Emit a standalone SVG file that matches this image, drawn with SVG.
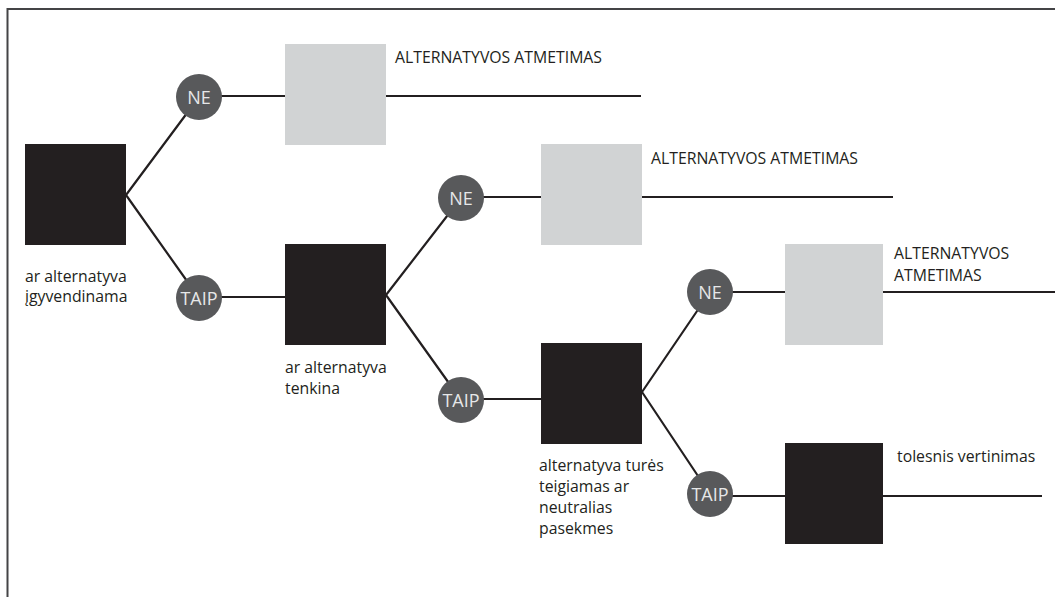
<svg xmlns="http://www.w3.org/2000/svg" width="1055" height="597" viewBox="0 0 1055 597">
  <style>
    .frame { fill: none; stroke: #444446; stroke-width: 2; }
    .link { fill: none; stroke: #231f20; stroke-width: 2.2; }
    .decision { fill: #231f20; }
    .reject { fill: #d1d3d4; }
    .chance { fill: #58595b; }
    .clabel { font-family: "Open Sans", "Liberation Sans", sans-serif; font-size: 18px; fill: #e6e7e8; text-anchor: middle; }
    .label { font-family: "Open Sans", "Liberation Sans", sans-serif; font-size: 15.8px; fill: #231f20; }
  </style>
  <rect width="1055" height="597" fill="#ffffff"/>

  <!-- outer frame: top and left edges only -->
  <path class="frame" d="M7.5 597 V9 H1055"/>

  <!-- connectors -->
  <g id="connectors">
    <path class="link" d="M126 195 L199 97 M126 195 L199 298"/>
    <path class="link" d="M199 96 H641"/>
    <path class="link" d="M199 297 H285"/>
    <path class="link" d="M386 295 L461 198 M386 295 L461 400"/>
    <path class="link" d="M461 197 H893"/>
    <path class="link" d="M461 399 H541"/>
    <path class="link" d="M642 392 L710 292 M642 392 L710 494"/>
    <path class="link" d="M710 292 H1055"/>
    <path class="link" d="M710 496 H1042"/>
  </g>

  <!-- root decision -->
  <g id="decision-1">
    <rect class="decision" x="25" y="144" width="101" height="101"/>
    <text class="label" x="25" y="282">ar alternatyva</text>
    <text class="label" x="25" y="302">įgyvendinama</text>
  </g>
  <g id="ne-1">
    <circle class="chance" cx="199" cy="97" r="23"/>
    <text class="clabel" x="199" y="104">NE</text>
  </g>
  <g id="taip-1">
    <circle class="chance" cx="199" cy="298" r="23"/>
    <text class="clabel" x="199" y="305">TAIP</text>
  </g>
  <g id="reject-1">
    <rect class="reject" x="285" y="44" width="101" height="101"/>
    <text class="label" x="395" y="63">ALTERNATYVOS ATMETIMAS</text>
  </g>

  <!-- second decision -->
  <g id="decision-2">
    <rect class="decision" x="285" y="244" width="101" height="101"/>
    <text class="label" x="285" y="373">ar alternatyva</text>
    <text class="label" x="285" y="394">tenkina</text>
  </g>
  <g id="ne-2">
    <circle class="chance" cx="461" cy="198" r="23"/>
    <text class="clabel" x="461" y="205">NE</text>
  </g>
  <g id="taip-2">
    <circle class="chance" cx="461" cy="400" r="23"/>
    <text class="clabel" x="461" y="407">TAIP</text>
  </g>
  <g id="reject-2">
    <rect class="reject" x="541" y="144" width="101" height="101"/>
    <text class="label" x="651" y="164">ALTERNATYVOS ATMETIMAS</text>
  </g>

  <!-- third decision -->
  <g id="decision-3">
    <rect class="decision" x="541" y="343" width="101" height="101"/>
    <text class="label" x="539" y="471">alternatyva turės</text>
    <text class="label" x="539" y="492">teigiamas ar</text>
    <text class="label" x="539" y="513">neutralias</text>
    <text class="label" x="539" y="534">pasekmes</text>
  </g>
  <g id="ne-3">
    <circle class="chance" cx="710" cy="292" r="23"/>
    <text class="clabel" x="710" y="299">NE</text>
  </g>
  <g id="taip-3">
    <circle class="chance" cx="710" cy="494" r="23"/>
    <text class="clabel" x="710" y="501">TAIP</text>
  </g>
  <g id="reject-3">
    <rect class="reject" x="785" y="244" width="98" height="101"/>
    <text class="label" x="894" y="259">ALTERNATYVOS</text>
    <text class="label" x="894" y="281">ATMETIMAS</text>
  </g>
  <g id="continue">
    <rect class="decision" x="785" y="443" width="98" height="101"/>
    <text class="label" x="897" y="462">tolesnis vertinimas</text>
  </g>
</svg>
